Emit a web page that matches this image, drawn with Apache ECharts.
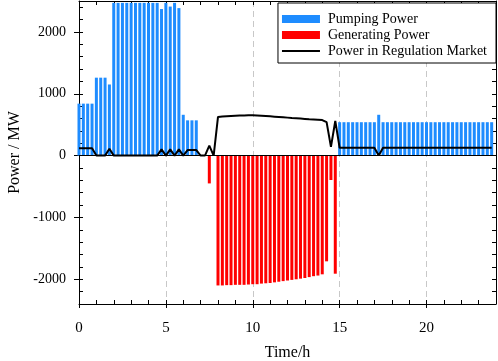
<!DOCTYPE html>
<html>
<head>
<meta charset="utf-8">
<script src="https://cdn.jsdelivr.net/npm/echarts@6/dist/echarts.min.js"></script>
<style>
  html, body { margin: 0; padding: 0; background: #fff; }
  #chart { width: 498px; height: 361px; }
</style>
</head>
<body>
<div id="chart"></div>
<script>
// 15-minute slots (hours)
const hours = Array.from({ length: 96 }, (_, k) => k * 0.25);

const pumping = [
  840, 840, 840, 840, 1260, 1260, 1260, 1150,
  2470, 2470, 2470, 2470, 2470, 2470, 2470, 2470,
  2470, 2470, 2470, 2370, 2470, 2410, 2470, 2385,
  660, 570, 570, 570, 0, 0, 0, 0,
  0, 0, 0, 0, 0, 0, 0, 0,
  0, 0, 0, 0, 0, 0, 0, 0,
  0, 0, 0, 0, 0, 0, 0, 0,
  0, 0, 0, 0, 540, 540, 540, 540,
  540, 540, 540, 540, 540, 660, 540, 540,
  540, 540, 540, 540, 540, 540, 540, 540,
  540, 540, 540, 540, 540, 540, 540, 540,
  540, 540, 540, 540, 540, 540, 540, 540
];

const generating = [
  0, 0, 0, 0, 0, 0, 0, 0,
  0, 0, 0, 0, 0, 0, 0, 0,
  0, 0, 0, 0, 0, 0, 0, 0,
  0, 0, 0, 0, 0, 0, -450, 0,
  -2100, -2100, -2095, -2095, -2090, -2090, -2090, -2085,
  -2080, -2080, -2070, -2065, -2060, -2050, -2040, -2030,
  -2020, -2010, -2000, -1990, -1980, -1965, -1950, -1940,
  -1920, -1710, -395, -1910, 0, 0, 0, 0,
  0, 0, 0, 0, 0, 0, 0, 0,
  0, 0, 0, 0, 0, 0, 0, 0,
  0, 0, 0, 0, 0, 0, 0, 0,
  0, 0, 0, 0, 0, 0, 0, 0
];

const regulation = [
  120, 120, 120, 120, 0, 0, 0, 110,
  0, 0, 0, 0, 0, 0, 0, 0,
  0, 0, 0, 100, 0, 100, 0, 100,
  0, 90, 90, 90, 0, 0, 160, 0,
  625, 632, 638, 642, 645, 648, 650, 652,
  652, 650, 645, 640, 635, 630, 625, 620,
  614, 608, 603, 598, 593, 588, 584, 580,
  575, 540, 140, 560, 125, 125, 125, 125,
  125, 125, 125, 125, 125, 0, 125, 125,
  125, 125, 125, 125, 125, 125, 125, 125,
  125, 125, 125, 125, 125, 125, 125, 125,
  125, 125, 125, 125, 125, 125, 125, 125
];

const xTickLabels = [0, 5, 10, 15, 20];
const yTickLabels = [-2000, -1000, 0, 1000, 2000];
const xMinorTicks = Array.from({ length: 25 }, (_, i) => i);
const yMinorTicks = Array.from({ length: 25 }, (_, i) => -2400 + i * 200);

const FONT = 'Liberation Serif';
const BLACK = '#000';

const chart = echarts.init(document.getElementById('chart'), null, { renderer: 'canvas' });

const baseY = { type: 'value', min: -2400, max: 2500 };
const baseX = { type: 'value', min: 0, max: 24, interval: 5 };

chart.setOption({
  animation: false,
  backgroundColor: '#fff',
  grid: { left: 79, right: 2, top: 1, bottom: 57, containLabel: false, outerBoundsMode: 'none' },
  legend: {
    orient: 'vertical',
    right: 2,
    top: 3,
    itemWidth: 38,
    itemHeight: 8,
    itemGap: 2,
    padding: [9, 9, 5, 4],
    borderColor: BLACK,
    borderWidth: 1,
    backgroundColor: '#fff',
    textStyle: { fontFamily: FONT, fontSize: 14, color: BLACK, padding: [0, 0, 0, 3] },
    data: [
      { name: 'Pumping Power', icon: 'rect' },
      { name: 'Generating Power', icon: 'rect' },
      { name: 'Power in Regulation Market', icon: 'path://M0,0L38,0L38,2L0,2Z', itemStyle: { color: BLACK } }
    ]
  },
  xAxis: [
    Object.assign({}, baseX, {
      position: 'bottom',
      axisLine: { show: true, onZero: false, lineStyle: { color: BLACK, width: 1 } },
      axisTick: { show: true, inside: false, length: 4, customValues: xTickLabels, lineStyle: { color: BLACK } },
      axisLabel: { customValues: xTickLabels, formatter: v => String(v), color: BLACK, fontSize: 15, fontFamily: FONT, margin: 17 },
      splitLine: { show: true, lineStyle: { color: '#c8c8c8', width: 1, type: [6, 4] } },
      name: 'Time/h',
      nameLocation: 'middle',
      nameGap: 41,
      nameTextStyle: { fontFamily: FONT, fontSize: 16, color: BLACK }
    }),
    Object.assign({}, baseX, {
      position: 'bottom',
      axisLine: { show: false, onZero: false },
      axisTick: { show: true, inside: true, length: 4, customValues: xMinorTicks, lineStyle: { color: BLACK } },
      axisLabel: { show: false },
      splitLine: { show: false }
    }),
    Object.assign({}, baseX, {
      position: 'top',
      axisLine: { show: true, onZero: false, lineStyle: { color: BLACK, width: 1 } },
      axisTick: { show: true, inside: true, length: 4, customValues: xMinorTicks, lineStyle: { color: BLACK } },
      axisLabel: { show: false },
      splitLine: { show: false }
    })
  ],
  yAxis: [
    Object.assign({}, baseY, {
      position: 'left',
      axisLine: { show: true, onZero: false, lineStyle: { color: BLACK, width: 1 } },
      axisTick: { show: true, inside: false, length: 5, customValues: yTickLabels, lineStyle: { color: BLACK } },
      axisLabel: { customValues: yTickLabels, formatter: v => String(v), color: BLACK, fontSize: 14, fontFamily: FONT, margin: 13 },
      splitLine: { show: false },
      name: 'Power / MW',
      nameLocation: 'middle',
      nameGap: 55,
      nameTextStyle: { fontFamily: FONT, fontSize: 16, color: BLACK }
    }),
    Object.assign({}, baseY, {
      position: 'left',
      axisLine: { show: false, onZero: false },
      axisTick: { show: true, inside: true, length: 4, customValues: yMinorTicks, lineStyle: { color: BLACK } },
      axisLabel: { show: false },
      splitLine: { show: false }
    }),
    Object.assign({}, baseY, {
      position: 'right',
      axisLine: { show: true, onZero: false, lineStyle: { color: BLACK, width: 1 } },
      axisTick: { show: true, inside: true, length: 4, customValues: yMinorTicks, lineStyle: { color: BLACK } },
      axisLabel: { show: false },
      splitLine: { show: false }
    })
  ],
  series: [
    {
      name: 'Pumping Power',
      type: 'bar',
      xAxisIndex: 0, yAxisIndex: 0,
      barWidth: 3,
      barGap: '-100%',
      itemStyle: { color: '#1E8CFF' },
      data: hours.map((h, i) => [h, pumping[i]])
    },
    {
      name: 'Generating Power',
      type: 'bar',
      xAxisIndex: 0, yAxisIndex: 0,
      barWidth: 3,
      barGap: '-100%',
      itemStyle: { color: '#FF0000' },
      data: hours.map((h, i) => [h, generating[i]])
    },
    {
      name: 'Power in Regulation Market',
      type: 'line',
      xAxisIndex: 0, yAxisIndex: 0,
      symbol: 'none',
      showSymbol: false,
      z: 5,
      lineStyle: { color: BLACK, width: 2 },
      itemStyle: { color: BLACK },
      data: hours.map((h, i) => [h, regulation[i]]),
      markLine: {
        silent: true,
        symbol: 'none',
        label: { show: false },
        lineStyle: { color: BLACK, width: 1, type: 'solid' },
        data: [{ yAxis: 0 }]
      }
    }
  ]
});
</script>
</body>
</html>
